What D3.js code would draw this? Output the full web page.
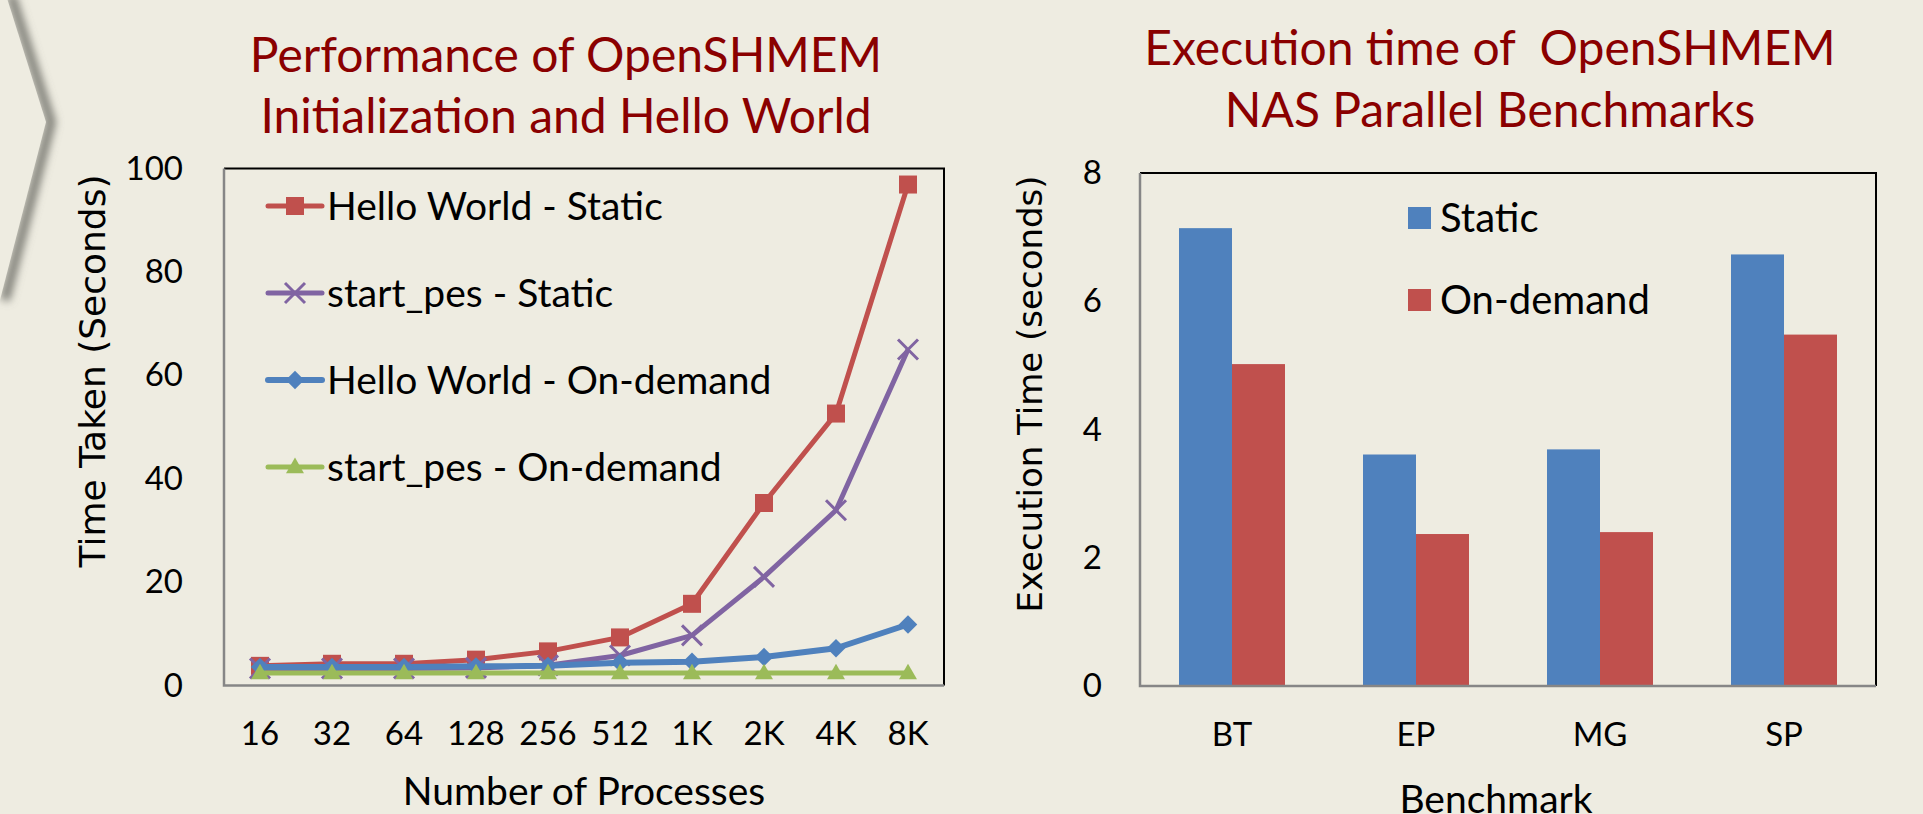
<!DOCTYPE html>
<html>
<head>
  <meta http-equiv="Content-Type" content="text/html; charset=UTF-8" />
  <title>OpenSHMEM static vs on-demand</title>
  <style>
    body {
      padding: 0;
      margin: 0;
      background: #eeece1;
    }
    text {
      font-family: Lato, "Open Sans", sans-serif;
    }
    .title {
      fill: #8a0000;
      font-size: 48px;
      white-space: pre;
    }
    .ytitle {
      font-family: "DejaVu Sans", sans-serif;
    }
  </style>
</head>
<body>

<svg width="1923" height="814" xmlns="http://www.w3.org/2000/svg"></svg>

<script src="https://d3js.org/d3.v7.min.js"></script>
<script>

// left chart: time taken vs number of processes
var procLabels = ["16", "32", "64", "128", "256", "512", "1K", "2K", "4K", "8K"]
var helloStatic = [3.8, 4.2, 4.2, 5.0, 6.6, 9.3, 15.8, 35.3, 52.6, 96.9]
var startStatic = [3.3, 3.3, 3.3, 3.4, 3.9, 5.8, 9.7, 21.0, 33.9, 65.0]
var helloOnDemand = [3.6, 3.6, 3.6, 3.7, 3.8, 4.4, 4.6, 5.5, 7.2, 11.8]
var startOnDemand = [2.4, 2.4, 2.4, 2.4, 2.4, 2.4, 2.4, 2.4, 2.4, 2.4]
var timeTicks = [0, 20, 40, 60, 80, 100]

// right chart: NAS parallel benchmarks
var benchmarks = ["BT", "EP", "MG", "SP"]
var staticTimes = [7.14, 3.61, 3.69, 6.73]
var onDemandTimes = [5.02, 2.37, 2.40, 5.48]
var execTicks = [0, 2, 4, 6, 8]

var red = "#c0504d", purple = "#8064a2", blue = "#4f81bd", green = "#9bbb59"

var svg = d3.select("svg")

svg.append("rect")
  .attr("width", 1923)
  .attr("height", 814)
  .attr("fill", "#eeece1")

// chevron edge of the slide template on the left
var defs = svg.append("defs")
defs.append("filter")
  .attr("id", "blur")
  .attr("x", "-50%").attr("width", "200%")
  .append("feGaussianBlur")
  .attr("stdDeviation", 4)

var chevron = [[6, -5], [46, 122], [0, 300]]
svg.append("path")
  .attr("d", d3.line()(chevron))
  .attr("fill", "none")
  .attr("stroke", "#77776f")
  .attr("stroke-width", 9)
  .attr("transform", "translate(5,0)")
  .attr("filter", "url(#blur)")
svg.append("path")
  .attr("d", d3.line()(chevron.concat([[-10, 300], [-10, -5]])))
  .attr("fill", "#eeece1")

// ---------- line chart ----------

var x = d3.scaleBand().domain(procLabels).range([224, 944])
var y = d3.scaleLinear().domain([0, 100]).range([685.5, 168.5])

var left = svg.append("g")

left.append("text").attr("class", "title")
  .attr("x", 566).attr("y", 72)
  .attr("text-anchor", "middle")
  .text("Performance of OpenSHMEM")
left.append("text").attr("class", "title")
  .attr("x", 566).attr("y", 133)
  .attr("text-anchor", "middle")
  .text("Initialization and Hello World")

drawFrame(left, 224, 944, 168.5, 685.5)

left.append("g")
  .attr("transform", "translate(224,0)")
  .call(d3.axisLeft(y).tickValues(timeTicks).tickSize(0).tickPadding(41))
  .call(styleAxis)

left.append("g")
  .attr("transform", "translate(0,686)")
  .call(d3.axisBottom(x).tickSize(0).tickPadding(36))
  .call(styleAxis)

left.append("text")
  .attr("x", 584).attr("y", 805)
  .attr("text-anchor", "middle")
  .style("font-size", "39px")
  .text("Number of Processes")

left.append("text").attr("class", "ytitle")
  .attr("transform", "translate(105,371) rotate(-90)")
  .attr("text-anchor", "middle")
  .style("font-size", "36px")
  .text("Time Taken (Seconds)")

var series = [
  {name: "Hello World - Static", values: helloStatic, color: red, marker: "square", width: 5},
  {name: "start_pes - Static", values: startStatic, color: purple, marker: "x", width: 5},
  {name: "Hello World - On-demand", values: helloOnDemand, color: blue, marker: "diamond", width: 6},
  {name: "start_pes - On-demand", values: startOnDemand, color: green, marker: "triangle", width: 5}
]

var line = d3.line()
  .x((d, i) => x(procLabels[i]) + x.bandwidth() / 2)
  .y(d => y(d))

series.forEach(s => {
  var g = left.append("g")
  g.append("path")
    .attr("d", line(s.values))
    .attr("fill", "none")
    .attr("stroke", s.color)
    .attr("stroke-width", s.width)
    .attr("stroke-linejoin", "round")
  s.values.forEach((v, i) => {
    drawMarker(g, s, x(procLabels[i]) + x.bandwidth() / 2, y(v))
  })
})

// legend inside the plot
series.forEach((s, i) => {
  var ly = 206 + i * 87
  var g = left.append("g")
  g.append("line")
    .attr("x1", 268).attr("x2", 322)
    .attr("y1", ly).attr("y2", ly)
    .attr("stroke", s.color)
    .attr("stroke-width", s.width)
    .attr("stroke-linecap", "round")
  drawMarker(g, s, 295, ly)
  g.append("text")
    .attr("x", 327).attr("y", ly)
    .attr("dy", "0.36em")
    .style("font-size", "39px")
    .text(s.name)
})

function drawMarker(g, s, cx, cy) {
  if (s.marker == "square") {
    g.append("rect")
      .attr("x", cx - 9).attr("y", cy - 9)
      .attr("width", 18).attr("height", 18)
      .attr("fill", s.color)
  } else if (s.marker == "diamond") {
    g.append("path")
      .attr("d", d3.symbol(d3.symbolSquare, 170)())
      .attr("transform", "translate(" + cx + "," + cy + ") rotate(45)")
      .attr("fill", s.color)
  } else if (s.marker == "triangle") {
    g.append("path")
      .attr("d", d3.symbol(d3.symbolTriangle, 140)())
      .attr("transform", "translate(" + cx + "," + (cy + 1) + ")")
      .attr("fill", s.color)
  } else {
    g.append("path")
      .attr("d", "M-10,-10L10,10M-10,10L10,-10")
      .attr("transform", "translate(" + cx + "," + cy + ")")
      .attr("stroke", s.color)
      .attr("stroke-width", 3)
  }
}

// ---------- bar chart ----------

var x0 = d3.scaleBand().domain(benchmarks).range([1140, 1876]).paddingInner(0.424).paddingOuter(0.212)
var x1 = d3.scaleBand().domain(["Static", "On-demand"]).range([0, x0.bandwidth()])
var y2 = d3.scaleLinear().domain([0, 8]).range([686, 173])
var barColors = {"Static": blue, "On-demand": red}

var right = svg.append("g")

right.append("text").attr("class", "title")
  .attr("x", 1490).attr("y", 65)
  .attr("text-anchor", "middle")
  .text("Execution time of  OpenSHMEM")
right.append("text").attr("class", "title")
  .attr("x", 1490).attr("y", 127)
  .attr("text-anchor", "middle")
  .text("NAS Parallel Benchmarks")

var barData = benchmarks.map((b, i) => ({name: b, values: [
  {key: "Static", value: staticTimes[i]},
  {key: "On-demand", value: onDemandTimes[i]}
]}))

right.selectAll("g.group")
  .data(barData)
  .enter()
  .append("g")
  .attr("class", "group")
  .attr("transform", d => "translate(" + x0(d.name) + ",0)")
  .selectAll("rect")
  .data(d => d.values)
  .enter()
  .append("rect")
  .attr("x", d => x1(d.key))
  .attr("width", x1.bandwidth())
  .attr("y", d => y2(d.value))
  .attr("height", d => y2(0) - y2(d.value))
  .attr("fill", d => barColors[d.key])

drawFrame(right, 1140, 1876, 173, 686)

right.append("g")
  .attr("transform", "translate(1140,0)")
  .call(d3.axisLeft(y2).tickValues(execTicks).tickSize(0).tickPadding(38))
  .call(styleAxis)

right.append("g")
  .attr("transform", "translate(0,687)")
  .call(d3.axisBottom(x0).tickSize(0).tickPadding(36))
  .call(styleAxis)

right.append("text")
  .attr("x", 1496).attr("y", 813)
  .attr("text-anchor", "middle")
  .style("font-size", "39px")
  .text("Benchmark")

right.append("text").attr("class", "ytitle")
  .attr("transform", "translate(1042,394) rotate(-90)")
  .attr("text-anchor", "middle")
  .style("font-size", "34px")
  .text("Execution Time (seconds)")

x1.domain().forEach((k, i) => {
  var ly = 218 + i * 82
  right.append("rect")
    .attr("x", 1408).attr("y", ly - 11)
    .attr("width", 23).attr("height", 22)
    .attr("fill", barColors[k])
  right.append("text")
    .attr("x", 1440).attr("y", ly)
    .attr("dy", "0.36em")
    .style("font-size", "40px")
    .text(k)
})

function drawFrame(g, x0, x1, y0, y1) {
  g.append("path")
    .attr("d", "M" + x0 + "," + y0 + "H" + x1 + "V" + y1)
    .attr("fill", "none")
    .attr("stroke", "#000")
    .attr("stroke-width", 2)
  g.append("path")
    .attr("d", "M" + x0 + "," + y0 + "V" + y1 + "H" + x1)
    .attr("fill", "none")
    .attr("stroke", "#868686")
    .attr("stroke-width", 2.5)
}

function styleAxis(g) {
  g.select(".domain").remove()
  g.selectAll("text")
    .style("font-family", "Lato, sans-serif")
    .style("font-size", "33px")
    .attr("fill", "#000")
}

</script>
</body>
</html>
